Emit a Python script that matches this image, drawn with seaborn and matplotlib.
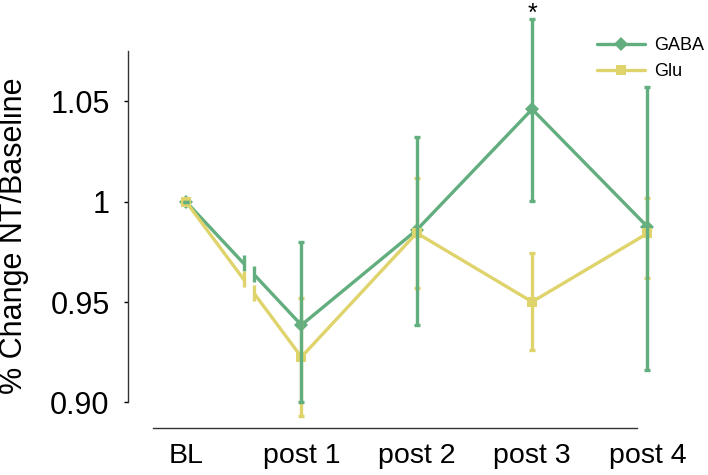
import numpy as np
import pandas as pd
import matplotlib.pyplot as plt
import seaborn as sns

# values (mean and error bar ends)
timepoints = ["BL", "post 1", "post 2", "post 3", "post 4"]
gaba_mean = [1.000, 0.9385, 0.9859, 1.0461, 0.9875]
gaba_low = [1.000, 0.9001, 0.9385, 1.0005, 0.9161]
gaba_high = [1.000, 0.9799, 1.0324, 1.0909, 1.0570]
glu_mean = [1.000, 0.9226, 0.9844, 0.9501, 0.9842]
glu_low = [1.000, 0.8932, 0.9571, 0.9261, 0.9618]
glu_high = [1.000, 0.9520, 1.0117, 0.9744, 1.0020]
y_ticks = [0.90, 0.95, 1.0, 1.05]
y_tick_labels = ["0.90", "0.95", "1", "1.05"]

sns.set_theme(style="ticks")
plt.rcParams["font.family"] = ["Liberation Sans", "DejaVu Sans"]
plt.rcParams["text.color"] = "black"
plt.rcParams["axes.labelcolor"] = "black"
plt.rcParams["xtick.color"] = "black"
plt.rcParams["ytick.color"] = "black"

colors = {"GABA": "#62ae7e", "Glu": "#dfd36b"}
x_pos = np.arange(len(timepoints))

df = pd.concat([
    pd.DataFrame({"x": x_pos, "value": gaba_mean, "NT": "GABA"}),
    pd.DataFrame({"x": x_pos, "value": glu_mean, "NT": "Glu"}),
], ignore_index=True)

fig = plt.figure(figsize=(7.08, 4.75), dpi=100)
ax = fig.add_axes([0.1804, 0.0989, 0.783, 0.901])

sns.lineplot(data=df, x="x", y="value", hue="NT", style="NT",
             palette=colors, markers={"GABA": "D", "Glu": "s"}, dashes=False,
             linewidth=2.4, markersize=7, markeredgewidth=0, ax=ax)

# error bars
for name, m, lo, hi in [("Glu", glu_mean, glu_low, glu_high),
                        ("GABA", gaba_mean, gaba_low, gaba_high)]:
    m = np.array(m)
    err = [m - np.array(lo), np.array(hi) - m]
    ax.errorbar(x_pos, m, yerr=err, fmt="none", ecolor=colors[name],
                elinewidth=2.4, capsize=2.5, capthick=2.4, zorder=3)

# axis break between BL and post 1
brk = np.array([0.5, 0.59])
ax.axvspan(brk[0], brk[1], ymin=0.03, ymax=1, color="white", zorder=2.5, lw=0)
for name, m in [("GABA", gaba_mean), ("Glu", glu_mean)]:
    ax.plot(brk, np.interp(brk, x_pos, m), "|", color=colors[name],
            ms=12, mew=2.4, zorder=4)

# significance star
ax.text(3, gaba_high[3] - 0.001, "*", ha="center", va="baseline", fontsize=18)

ax.set_xlim(-0.505, 4.30)
ax.set_ylim(0.8872, 1.1005)
ax.set_xticks(x_pos)
ax.set_xticklabels(timepoints)
ax.set_yticks(y_ticks)
ax.set_yticklabels(y_tick_labels)
ax.tick_params(axis="x", length=0, pad=11, labelsize=20.5)
ax.tick_params(axis="y", length=3, width=1, pad=10, labelsize=22, direction="out")
ax.set_xlabel("")
ax.set_ylabel("% Change NT/Baseline", fontsize=22)
ax.yaxis.set_label_coords(-0.178, 0.449)

sns.despine(ax=ax)
ax.spines["left"].set_bounds(0.90, 1.0753)
ax.spines["bottom"].set_bounds(-0.286, 3.908)
for s in ["left", "bottom"]:
    ax.spines[s].set_linewidth(1)
    ax.spines[s].set_color("#333333")

sns.move_legend(ax, "upper right", bbox_to_anchor=(1.052, 0.93), title=None,
                frameon=False, fontsize=13, handlelength=2.66,
                handletextpad=0.5, labelspacing=0.5, borderaxespad=0)

fig.savefig("out.png", dpi=100)
